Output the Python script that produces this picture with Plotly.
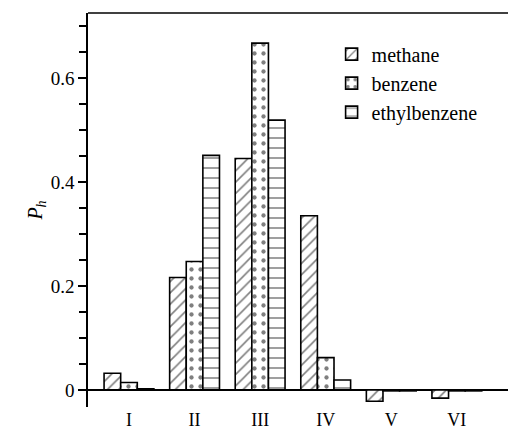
import plotly.graph_objects as go

categories = ["I", "II", "III", "IV", "V", "VI"]
methane = [0.032, 0.216, 0.445, 0.335, -0.022, -0.016]
benzene = [0.014, 0.247, 0.667, 0.062, -0.002, -0.002]
ethylbenzene = [0.002, 0.451, 0.519, 0.019, -0.002, -0.002]
series = [("methane", methane, "/", 8, 0.2), ("benzene", benzene, ".", 9, 0.18), ("ethylbenzene", ethylbenzene, "-", 10, 0.15)]

font = "Liberation Serif, Times New Roman, serif"
fig = go.Figure()
for name, vals, shape, size, sol in series:
    fig.add_trace(go.Bar(
        x=categories, y=vals, name=name,
        marker=dict(color="white", line=dict(color="black", width=1.6),
                    pattern=dict(shape=shape, fgcolor="black", bgcolor="white",
                                 size=size, solidity=sol)),
    ))

fig.update_layout(
    width=508, height=429,
    margin=dict(l=88, r=0, t=13, b=22),
    paper_bgcolor="white", plot_bgcolor="white",
    barmode="group", bargap=0.24, bargroupgap=0,
    font=dict(family=font, size=19, color="black"),
    showlegend=True,
    legend=dict(x=0.58, y=0.945, xanchor="left", yanchor="top",
                bgcolor="rgba(0,0,0,0)", font=dict(size=20, family=font),
                itemwidth=30, tracegroupgap=0),
    xaxis=dict(type="category", range=[-0.625, 5.78], showline=False, ticks="",
               showgrid=False, zeroline=False, automargin=False,
               tickfont=dict(size=18, family=font)),
    yaxis=dict(range=[-0.033, 0.725], showline=True, linecolor="black", linewidth=1.5,
               ticks="outside", ticklen=8, tickwidth=1.5, tickcolor="black",
               tickvals=[0, 0.2, 0.4, 0.6], ticktext=["0", "0.2", "0.4", "0.6"],
               minor=dict(dtick=0.05, ticks="outside", ticklen=7, tickwidth=1.5, tickcolor="black", showgrid=False),
               showgrid=False, zeroline=True, zerolinecolor="black", zerolinewidth=1.5,
               automargin=False, tickfont=dict(size=19, family=font),
               title=dict(text="<i>P<sub>h</sub></i>", standoff=3, font=dict(size=20, family=font))),
    shapes=[dict(type="line", xref="paper", yref="paper", x0=0, x1=1, y0=1, y1=1,
                 line=dict(color="black", width=1.5))],
)
fig.write_html("out.html")
